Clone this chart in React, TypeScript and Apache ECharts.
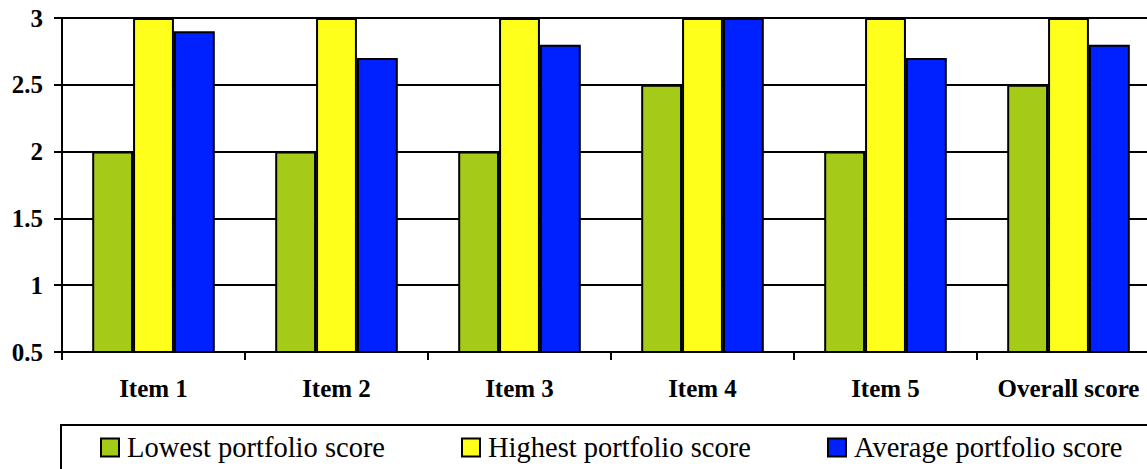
import React, { useEffect, useRef } from "react";
import * as echarts from "echarts";

const categories = ["Item 1", "Item 2", "Item 3", "Item 4", "Item 5", "Overall score"];
const lowest = [2, 2, 2, 2.5, 2, 2.5];
const highest = [3, 3, 3, 3, 3, 3];
const average = [2.9, 2.7, 2.8, 3, 2.7, 2.8];
const seriesNames = ["Lowest portfolio score", "Highest portfolio score", "Average portfolio score"];
const colors = ["#A6CA18", "#FFFF1C", "#0021FF"];
const legendLefts = [100, 461, 827];

const FONT = "Liberation Serif";

export default function App() {
  const ref = useRef<HTMLDivElement>(null);
  useEffect(() => {
    document.body.style.margin = "0";
    const chart = echarts.init(ref.current!, null, { renderer: "svg" });
    const values = [lowest, highest, average];
    chart.setOption({
      animation: false,
      backgroundColor: "#ffffff",
      textStyle: { fontFamily: FONT },
      grid: { left: 62, top: 18, right: -13, bottom: 117, containLabel: false, outerBoundsMode: "none" },
      legend: seriesNames.map((name, i) => ({
        data: [{ name, itemStyle: { color: colors[i], borderColor: "#000", borderWidth: 2 } }],
        left: legendLefts[i],
        top: 433,
        itemWidth: 18,
        itemHeight: 18,
        icon: "rect",
        padding: 0,
        selectedMode: false,
        textStyle: { fontFamily: FONT, fontSize: 28.5, color: "#000", padding: [0, 0, 0, 3] },
      })),
      graphic: [
        {
          type: "rect",
          shape: { x: 61, y: 425, width: 1100, height: 60 },
          style: { fill: "none", stroke: "#000", lineWidth: 2 },
          silent: true,
        },
      ],
      xAxis: {
        type: "category",
        data: categories,
        axisLine: { lineStyle: { color: "#000", width: 2 } },
        axisTick: { show: true, interval: 0, length: 8, lineStyle: { color: "#000", width: 2 } },
        axisLabel: { interval: 0, fontFamily: FONT, fontWeight: "bold", fontSize: 25, color: "#000", margin: 24 },
      },
      yAxis: {
        type: "value",
        min: 0.5,
        max: 3,
        interval: 0.5,
        axisLine: { show: true, lineStyle: { color: "#000", width: 2 } },
        axisTick: { show: true, length: 8, lineStyle: { color: "#000", width: 2 } },
        splitLine: { show: true, lineStyle: { color: "#000", width: 2 } },
        axisLabel: { fontFamily: FONT, fontWeight: "bold", fontSize: 25, color: "#000", margin: 19 },
      },
      series: seriesNames.map((name, i) => ({
        name,
        type: "bar",
        data: values[i],
        barGap: "0%",
        barCategoryGap: "33%",
        itemStyle: { color: colors[i], borderColor: "#000", borderWidth: 2 },
      })),
    });
    return () => chart.dispose();
  }, []);
  return <div ref={ref} style={{ width: 1147, height: 469 }} />;
}
